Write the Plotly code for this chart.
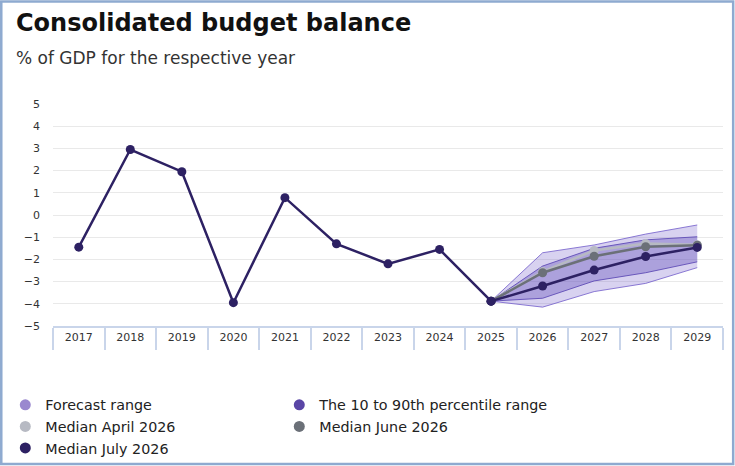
import plotly.graph_objects as go

years_hist = ["2017", "2018", "2019", "2020", "2021", "2022", "2023", "2024", "2025"]
balance_hist = [-1.45, 2.95, 1.95, -3.95, 0.78, -1.3, -2.2, -1.55, -3.88]

years_fc = ["2025", "2026", "2027", "2028", "2029"]
forecast_upper = [-3.88, -1.7, -1.35, -0.86, -0.45]
forecast_lower = [-3.88, -4.15, -3.45, -3.08, -2.37]
pct_upper = [-3.88, -2.3, -1.5, -1.12, -0.98]
pct_lower = [-3.88, -3.75, -2.97, -2.6, -2.11]
median_april = [-3.88, -2.55, -1.6, -1.28, -1.34]
median_june = [-3.88, -2.6, -1.86, -1.43, -1.36]
median_july = [-3.88, -3.2, -2.48, -1.87, -1.46]

all_years = ["2017", "2018", "2019", "2020", "2021", "2022", "2023", "2024",
             "2025", "2026", "2027", "2028", "2029"]
y_ticks = [5, 4, 3, 2, 1, 0, -1, -2, -3, -4, -5]

C_FC_FILL = "rgba(125,105,205,0.30)"
C_FC_LINE = "rgba(120,100,205,0.85)"
C_PCT_FILL = "rgba(95,75,185,0.36)"
C_PCT_LINE = "rgba(90,70,180,0.85)"
C_APR = "#b7bac3"
C_JUN = "#6b7078"
C_JUL = "#2d2163"

fig = go.Figure()

# forecast range
fig.add_trace(go.Scatter(x=years_fc, y=forecast_lower, mode="lines",
                         line=dict(color=C_FC_LINE, width=1), showlegend=False,
                         hoverinfo="skip"))
fig.add_trace(go.Scatter(x=years_fc, y=forecast_upper, mode="lines", fill="tonexty",
                         fillcolor=C_FC_FILL, line=dict(color=C_FC_LINE, width=1),
                         showlegend=False, hoverinfo="skip"))
# percentile range
fig.add_trace(go.Scatter(x=years_fc, y=pct_lower, mode="lines",
                         line=dict(color=C_PCT_LINE, width=1), showlegend=False,
                         hoverinfo="skip"))
fig.add_trace(go.Scatter(x=years_fc, y=pct_upper, mode="lines", fill="tonexty",
                         fillcolor=C_PCT_FILL, line=dict(color=C_PCT_LINE, width=1),
                         showlegend=False, hoverinfo="skip"))

for vals, col in [(median_april, C_APR), (median_june, C_JUN), (median_july, C_JUL)]:
    fig.add_trace(go.Scatter(x=years_fc, y=vals, mode="lines+markers",
                             line=dict(color=col, width=2.5),
                             marker=dict(color=col, size=9), showlegend=False))

fig.add_trace(go.Scatter(x=years_hist, y=balance_hist, mode="lines+markers",
                         line=dict(color=C_JUL, width=2.5),
                         marker=dict(color=C_JUL, size=9), showlegend=False))

# legend entries (circle swatches)
legend_items = [("Forecast range", "#9a88cf"),
                ("The 10 to 90th percentile range", "#5a46a6"),
                ("Median April 2026", C_APR),
                ("Median June 2026", C_JUN),
                ("Median July 2026", C_JUL)]
for name, col in legend_items:
    fig.add_trace(go.Scatter(x=[None], y=[None], mode="markers", name=name,
                             marker=dict(color=col, size=11), showlegend=True))

fig.update_layout(
    width=735, height=466,
    margin=dict(l=53, r=12, t=104, b=140, autoexpand=False),
    paper_bgcolor="white", plot_bgcolor="white",
    title=dict(text="<b>Consolidated budget balance</b>", x=0, xref="container",
               xanchor="left", y=1 - 23 / 466, yref="container", yanchor="middle",
               font=dict(family="DejaVu Sans", size=24, color="#111111"),
               pad=dict(l=16)),
    xaxis=dict(type="category", categoryorder="array", categoryarray=all_years,
               range=[-0.5, 12.5], showgrid=False, showline=True,
               linecolor="#c9d5ea", linewidth=1.5, ticks="outside",
               tickson="boundaries", ticklen=22, tickcolor="#c9d5ea", tickwidth=1.5,
               ticklabelstandoff=0,
               tickfont=dict(family="DejaVu Sans", size=11, color="#333333"),
               fixedrange=True),
    yaxis=dict(range=[-5, 5], tickvals=y_ticks, showgrid=True, gridcolor="#e9e9e9",
               gridwidth=1, zeroline=False, showline=False,
               ticklabelstandoff=12,
               tickfont=dict(family="DejaVu Sans", size=11, color="#333333"),
               fixedrange=True),
    legend=dict(orientation="h", traceorder="normal", xref="container", yref="container",
                x=0.0072, xanchor="left", y=1 - 389 / 466, yanchor="top",
                entrywidth=229, entrywidthmode="pixels", itemwidth=30,
                font=dict(family="DejaVu Sans", size=14.3, color="#222222"),
                tracegroupgap=0, bgcolor="rgba(0,0,0,0)"),
    annotations=[dict(text="% of GDP for the respective year", xref="paper", yref="paper",
                      x=-0.0582, y=1.207, xanchor="left", yanchor="middle",
                      showarrow=False,
                      font=dict(family="DejaVu Sans", size=17, color="#333333"))],
    shapes=[dict(type="rect", xref="paper", yref="paper",
                 x0=-0.0772, x1=1.0152, y0=-0.6216, y1=1.4617,
                 line=dict(color="#8eaad0", width=2.5), fillcolor="rgba(0,0,0,0)",
                 layer="above")],
)

fig.write_html("out.html", config={"displayModeBar": False},
               post_script="document.body.style.margin='0';")
